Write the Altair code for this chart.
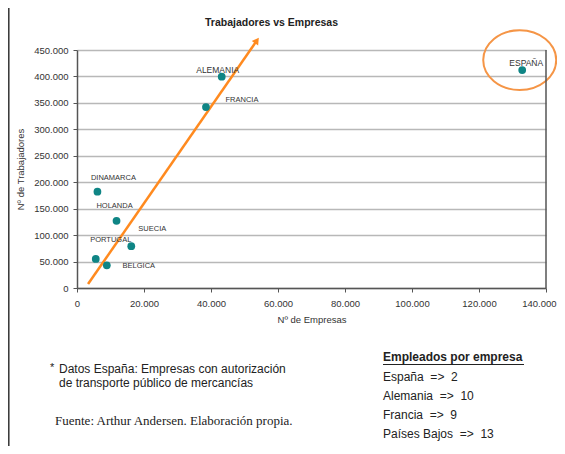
import altair as alt
import pandas as pd

# ---------------- data ----------------
paises = ["ESPAÑA", "ALEMANIA", "FRANCIA", "DINAMARCA", "HOLANDA", "SUECIA", "PORTUGAL", "BELGICA"]
empresas = [132900, 43200, 38500, 6100, 11800, 16200, 5600, 8900]
trabajadores = [412000, 399500, 342000, 182000, 127000, 79000, 55000, 43000]

# orange trend arrow (start, end) in data units
tendencia_empresas = [3300, 53700]
tendencia_trabajadores = [7500, 468000]

x_ticks = [0, 20000, 40000, 60000, 80000, 100000, 120000, 140000]
y_ticks = [0, 50000, 100000, 150000, 200000, 250000, 300000, 350000, 400000, 450000]

titulo = "Trabajadores vs Empresas"
titulo_x = "Nº de Empresas"
titulo_y = "Nº de Trabajadores"
nota = ["Datos España: Empresas con autorización", "de transporte público de mercancías"]
fuente = "Fuente: Arthur Andersen. Elaboración propia."
empleados_titulo = "Empleados por empresa"
empleados = ["España\u00a0 =>\u00a0 2", "Alemania\u00a0 =>\u00a0 10", "Francia\u00a0 =>\u00a0 9",
             "Países Bajos\u00a0 =>\u00a0 13"]

# ---------------- styles ----------------
TEAL = "#0f8585"
ORANGE = "#ff8a1f"
ELLIPSE = "#f59546"
W, H = 469, 238
FONT = "Liberation Sans"

df = pd.DataFrame({"pais": paises, "empresas": empresas, "trabajadores": trabajadores})
df_t = pd.DataFrame({"empresas": tendencia_empresas, "trabajadores": tendencia_trabajadores,
                     "orden": [0, 1]})

fmt = "replace(format(datum.value, ','), ',', '.')"
last_x = "datum.value == 140000"

X = alt.X("empresas:Q", scale=alt.Scale(domain=[0, 140000], nice=False, zero=True),
          axis=alt.Axis(values=x_ticks, labelExpr=fmt, title=titulo_x, grid=False,
                        domainColor="#555555", domainWidth=1.5, tickColor="#555555",
                        tickSize=4, tickWidth=1, labelFontSize=9.5, labelColor="#333333",
                        labelPadding=6, labelFlush=False, labelOverlap=False,
                        labelAlign={"condition": {"test": last_x, "value": "right"}, "value": "center"},
                        labelOffset={"condition": {"test": last_x, "value": 10}, "value": 0},
                        titleFontSize=9.5, titleFontWeight="normal", titleColor="#333333",
                        titlePadding=7))
Y = alt.Y("trabajadores:Q", scale=alt.Scale(domain=[0, 450000], nice=False),
          axis=alt.Axis(values=y_ticks, labelExpr=fmt, title=titulo_y, grid=True,
                        gridColor="#b8b8b8", gridWidth=1.5,
                        domainColor="#555555", domainWidth=1.5, tickColor="#555555",
                        tickSize=4, tickWidth=1, labelFontSize=9.5, labelColor="#333333",
                        labelPadding=5, labelOverlap=False,
                        titleFontSize=9.5, titleFontWeight="normal", titleColor="#333333",
                        titlePadding=8))

base = alt.Chart(df)
layers = []

# orange trend line + arrow head
layers.append(alt.Chart(df_t).mark_line(color=ORANGE, strokeWidth=2.5, clip=False).encode(x=X, y=Y, order="orden:O"))
layers.append(alt.Chart(df_t).transform_filter(alt.datum.orden == 1).mark_point(
    shape="triangle-up", filled=True, color=ORANGE, size=60, angle=35, opacity=1, clip=False
).encode(x=X, y=Y))

# points
layers.append(base.mark_circle(size=60, color=TEAL, opacity=1).encode(x=X, y=Y))

# labels with offsets
offsets = {
    "ESPAÑA": (4, -7, 8.5), "ALEMANIA": (-4, -7, 8.5), "FRANCIA": (36, -7, 7.5),
    "DINAMARCA": (16, -14, 7.5), "HOLANDA": (-2, -15, 7.5), "SUECIA": (21, -17, 7.5),
    "PORTUGAL": (15, -19, 7.5), "BELGICA": (32, 1, 7.5),
}
for p, (dx, dy, fs) in offsets.items():
    layers.append(base.transform_filter(alt.datum.pais == p).mark_text(
        dx=dx, dy=dy, fontSize=fs, color="#333333", align="center", baseline="middle"
    ).encode(x=X, y=Y, text="pais:N"))

# ellipse highlighting ESPAÑA
ellipse_path = "M -1 0 A 1 0.82 0 1 1 1 0 A 1 0.82 0 1 1 -1 0 Z"
layers.append(base.transform_filter(alt.datum.pais == "ESPAÑA").mark_point(
    shape=ellipse_path, size=73 * 73, filled=False, color=ELLIPSE, strokeWidth=2,
    opacity=1, xOffset=-2.5, yOffset=-10, clip=False
).encode(x=X, y=Y))

one = alt.Data(values=[{}])

# right border of plot area
layers.append(alt.Chart(one).mark_rule(color="#555555", strokeWidth=1.5).encode(
    x=alt.value(W), y=alt.value(0), y2=alt.value(H)))
# slide left border
layers.append(alt.Chart(one).mark_rule(color="#333333", strokeWidth=1.5).encode(
    x=alt.value(-68.2), y=alt.value(-42), y2=alt.value(396)))

def txt(t, x, y, size, align="left", weight="normal", font=FONT, color="#222222"):
    return alt.Chart(one).mark_text(
        text=t, fontSize=size, align=align, baseline="middle", fontWeight=weight,
        font=font, color=color
    ).encode(x=alt.value(x), y=alt.value(y))

layers.append(txt(titulo, 194.5, -27, 10.5, align="center", weight="bold"))
layers.append(txt("*", -27, 318, 11))
layers.append(txt(nota[0], -18, 319.3, 12))
layers.append(txt(nota[1], -18, 333.3, 12))
layers.append(txt(fuente, -22, 370.7, 13, font="Liberation Serif"))
layers.append(txt(empleados_titulo, 306, 307.3, 12, weight="bold"))
layers.append(alt.Chart(one).mark_rule(color="#222222", strokeWidth=1).encode(
    x=alt.value(306), x2=alt.value(447), y=alt.value(314.5)))
for i, (t, yy) in enumerate(zip(empleados, [327.3, 346, 364.5, 384])):
    layers.append(txt(t, 306, yy, 12))

chart = alt.layer(*layers).properties(
    width=W, height=H,
    padding={"left": 69, "top": 42, "right": 11, "bottom": 158},
    autosize=alt.AutoSizeParams(type="none"),
).configure(font=FONT).configure_view(stroke=None)

chart.save("out.html", embed_options={"renderer": "svg", "actions": False})
